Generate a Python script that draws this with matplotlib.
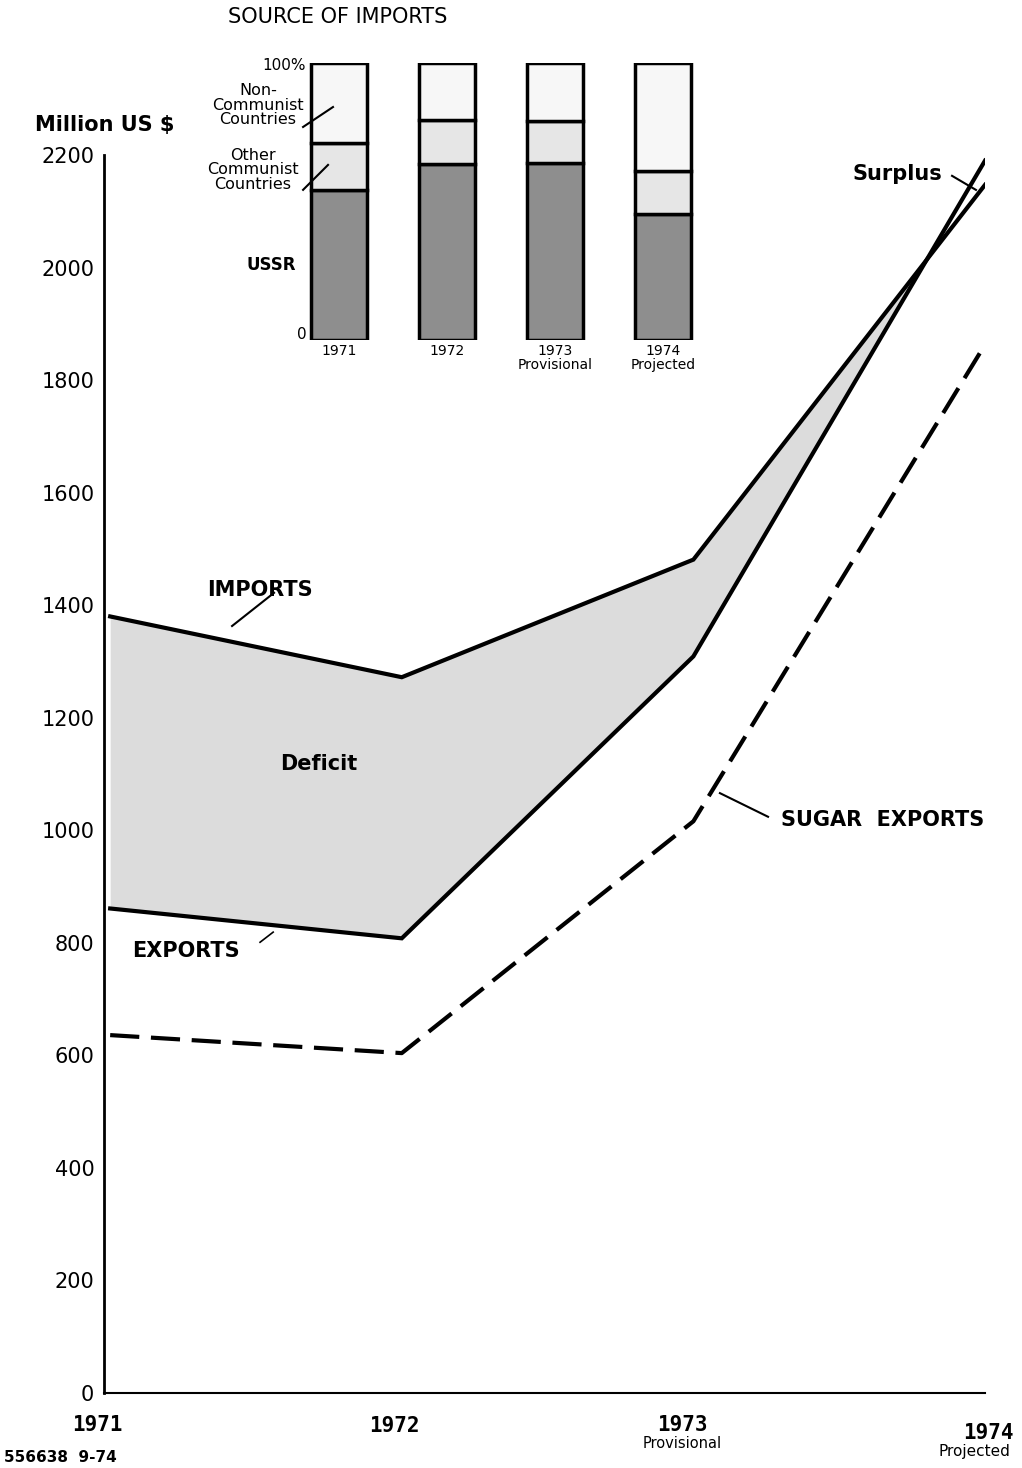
"""
Cuba: imports, exports and sugar exports 1971-74, with source-of-imports inset
"""
import numpy as np
import matplotlib.pyplot as plt
from matplotlib.transforms import blended_transform_factory

plt.rcParams['font.family'] = 'DejaVu Sans'

# data (million US $)
years = [1971, 1972, 1973, 1974]
imports = [1380, 1272, 1481, 2147]
exports = [861, 808, 1309, 2190]
sugar_exports = [636, 604, 1016, 1863]
year_labels = ['1971', '1972', '1973', '1974']
year_notes = ['', '', 'Provisional', 'Projected']
y_ticks = [0, 200, 400, 600, 800, 1000, 1200, 1400, 1600, 1800, 2000, 2200]

# source of imports (% of total)
bar_labels = ['1971', '1972', '1973\nProvisional', '1974\nProjected']
ussr = [54, 63.5, 64, 45.5]
other_communist = [17, 16, 15, 15.5]
non_communist = [29, 20.5, 21, 39]

fig = plt.figure(figsize=(10.22, 14.68), dpi=100)

# ---- main chart ----
ax = fig.add_axes([0.1018, 0.0511, 0.862, 0.8433])
ax.set_xlim(1970.979, 1974.0)
ax.set_ylim(0, 2200)

x = np.array(years, dtype=float)
imp = np.array(imports, dtype=float)
exp_ = np.array(exports, dtype=float)
ax.fill_between(x, exp_, imp, where=imp >= exp_, interpolate=True,
                color='#dcdcdc', lw=0, zorder=1)
ax.plot(x, imp, color='black', lw=3, solid_joinstyle='miter', zorder=3)
ax.plot(x, exp_, color='black', lw=3, solid_joinstyle='miter', zorder=3)
ax.plot(x, sugar_exports, color='black', lw=3, dashes=(7, 2.8), zorder=3)

for s in ['top', 'right']:
    ax.spines[s].set_visible(False)
ax.spines['left'].set_linewidth(2)
ax.spines['bottom'].set_linewidth(1.5)
ax.set_yticks(y_ticks)
ax.set_yticklabels([str(v) for v in y_ticks], fontsize=15)
ax.tick_params(axis='y', length=0, pad=7)
ax.set_xticks([])

# x labels
tr = blended_transform_factory(ax.transData, ax.transAxes)
dx = [-0.045, -0.027, -0.038, 0.01]
ly = [-0.0258, -0.0266, -0.0255, -0.032]
note_dx = [0, 0, -0.038, -0.035]
for yr, lab, note, d, yy, nd in zip(years, year_labels, year_notes, dx, ly, note_dx):
    ax.text(yr + d, yy, lab, transform=tr, ha='center', va='center',
            fontsize=15, fontweight='bold', family='DejaVu Sans Mono', clip_on=False)
    if note:
        ax.text(yr + nd, yy - 0.015, note, transform=tr, ha='center', va='center',
                fontsize=10.5 if note == 'Provisional' else 11, clip_on=False)

fig.text(35 / 1022, 1 - 125 / 1468, 'Million US $', fontsize=15, fontweight='bold',
         ha='left', va='center')

# series labels
lab_kw = dict(fontsize=15, fontweight='bold', va='center', ha='left')
ax.text(1971.333, 1427, 'IMPORTS', **lab_kw)
ax.plot([1971.418, 1971.562], [1363, 1422], color='black', lw=1.5)
ax.text(1971.075, 785, 'EXPORTS', **lab_kw)
ax.plot([1971.514, 1971.559], [801, 819], color='black', lw=1.2)
ax.text(1971.583, 1118, 'Deficit', **lab_kw)
ax.text(1973.30, 1018, 'SUGAR  EXPORTS', clip_on=False, **lab_kw)
ax.plot([1973.091, 1973.256], [1066, 1024], color='black', lw=1.5)
ax.text(1973.547, 2166, 'Surplus', **lab_kw)
ax.plot([1973.887, 1973.969], [2163, 2138], color='black', lw=1.5)

fig.text(0.004, 1 - 1450 / 1468, '556638  9-74', fontsize=11, fontweight='bold',
         ha='left', va='top')

# ---- inset: source of imports ----
ax2 = fig.add_axes([0.2789, 0.7684, 0.4227, 0.1887])
ax2.set_xlim(-0.5, 3.5)
ax2.set_ylim(0, 100)
ax2.axis('off')
pos = np.arange(len(bar_labels))
u = np.array(ussr, dtype=float)
o = np.array(other_communist, dtype=float)
n = np.array(non_communist, dtype=float)
ax2.bar(pos, u, width=0.52, color='#8e8e8e', edgecolor='black', lw=2.5)
ax2.bar(pos, o, bottom=u, width=0.52, color='#e6e6e6', edgecolor='black', lw=2.5)
ax2.bar(pos, n, bottom=u + o, width=0.52, color='#f7f7f7', edgecolor='black', lw=2.5)

for p, lab in zip(pos, bar_labels):
    ax2.text(p, -1.5, lab, ha='center', va='top', fontsize=10, linespacing=0.95)

ax2.text(-0.31, 99, '100%', ha='right', va='center', fontsize=11)
ax2.text(-0.30, 2, '0', ha='right', va='center', fontsize=11)
ax2.text(-0.75, 84.8, 'Non-\nCommunist\nCountries', ha='center', va='center',
         fontsize=11.5, linespacing=0.98)
ax2.text(-0.796, 61.4, 'Other\nCommunist\nCountries', ha='center', va='center',
         fontsize=11.5, linespacing=0.98)
ax2.text(-0.63, 27, 'USSR', ha='center', va='center', fontsize=12, fontweight='bold')
ax2.plot([-0.333, -0.056], [76.9, 84.1], color='black', lw=1.5, clip_on=False)
ax2.plot([-0.333, -0.102], [54.2, 63.2], color='black', lw=1.5, clip_on=False)

fig.text(228 / 1022, 1 - 17 / 1468, 'SOURCE OF IMPORTS', fontsize=15,
         ha='left', va='center')

plt.savefig('out.png', dpi=100)
